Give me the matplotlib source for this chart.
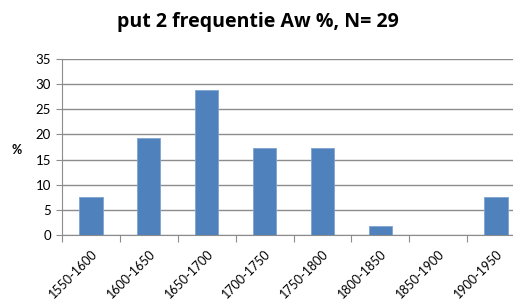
import matplotlib
matplotlib.use("Agg")
import matplotlib.pyplot as plt
import numpy as np

categories = ["1550-1600", "1600-1650", "1650-1700", "1700-1750",
              "1750-1800", "1800-1850", "1850-1900", "1900-1950"]
values = [7.6, 19.2, 28.8, 17.4, 17.4, 1.8, 0.0, 7.6]
yticks = [0, 5, 10, 15, 20, 25, 30, 35]

fig = plt.figure(figsize=(5.13, 3.04), dpi=100)
ax = fig.add_axes([62/513, 69/304, 463/513, 176/304])

x = np.arange(len(categories))
ax.bar(x, values, width=0.40, color="#4F81BD", edgecolor="#7FA3D0", linewidth=0.6, zorder=3)

ax.set_xlim(-0.5, len(categories) - 0.5)
ax.set_ylim(0, 35)
ax.set_yticks(yticks)
ax.set_yticklabels([str(t) for t in yticks], fontsize=9.5, family="Lato")
ax.yaxis.grid(True, color="#8C8C8C", linewidth=1.0, zorder=0)
ax.set_axisbelow(True)

for s in ["top", "right"]:
    ax.spines[s].set_visible(False)
ax.spines["left"].set_color("#8C8C8C")
ax.spines["bottom"].set_color("#8C8C8C")
ax.tick_params(axis="y", length=4, color="#8C8C8C", pad=4)

ax.set_xticks(np.arange(len(categories) + 1) - 0.5, minor=False)
ax.set_xticklabels([])
ax.tick_params(axis="x", which="major", length=5, color="#8C8C8C")
ax.set_xticks(x, minor=True)
ax.set_xticklabels(categories, minor=True, rotation=45, ha="right",
                   rotation_mode="anchor", fontsize=9, family="Lato")
ax.tick_params(axis="x", which="minor", length=0, pad=9)

fig.text(17/513, 1 - 150/304, "%", fontsize=9, fontweight="bold",
         family="Lato", ha="center", va="center")
fig.text(258/513, 1 - 22/304, "put 2 frequentie Aw %, N= 29", fontsize=14,
         fontweight="bold", family="Open Sans", ha="center", va="center")

fig.savefig("out.png", dpi=100)
